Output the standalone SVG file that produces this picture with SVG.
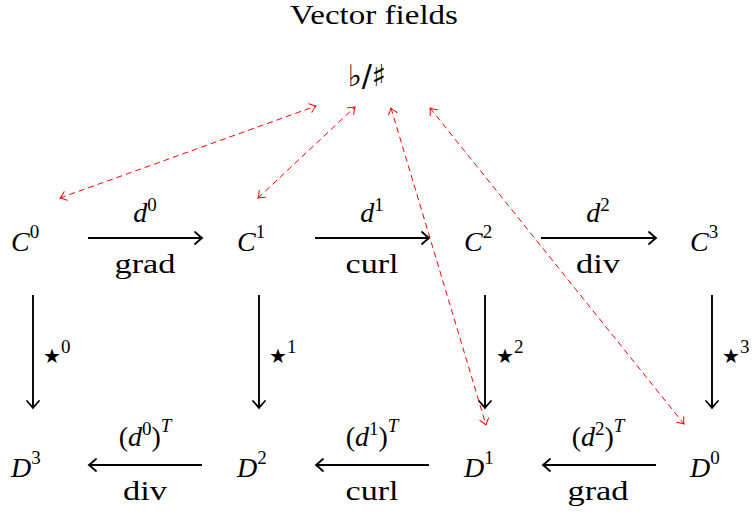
<svg xmlns="http://www.w3.org/2000/svg" width="755" height="516" viewBox="0 0 755 516">
<defs>
<style>
.a{stroke:#000;stroke-width:1.9;fill:none}
.d{stroke:#f00;stroke-width:1;fill:none;stroke-dasharray:6 4}
</style>
<marker id="ah" viewBox="-10 -7 12 14" markerWidth="12" markerHeight="14" refX="0" refY="0" orient="auto-start-reverse" markerUnits="userSpaceOnUse">
<path d="M-7,-6 Q-2,-1.5 0,0 Q-2,1.5 -7,6" stroke="#000" stroke-width="1.8" fill="none" stroke-linecap="round"/>
</marker>
<marker id="rh" viewBox="-10 -6 12 12" markerWidth="12" markerHeight="12" refX="0" refY="0" orient="auto-start-reverse" markerUnits="userSpaceOnUse">
<path d="M-6,-4.5 Q-2,-1 0,0 Q-2,1 -6,4.5" stroke="#f00" stroke-width="1" fill="none" stroke-linecap="round"/>
</marker>
</defs>
<rect width="755" height="516" fill="#fff"/>
<g id="title"><text x="374" y="24" font-family="'Liberation Serif', serif" font-size="28" text-anchor="middle" textLength="168" lengthAdjust="spacingAndGlyphs">Vector fields</text></g>
<g id="flatsharp"><text x="367" y="86" text-anchor="middle" font-family="'DejaVu Sans', sans-serif" font-size="30">♭/♯</text></g>
<g id="C0"><text x="11" y="251" font-family="'Liberation Serif', serif" font-size="28" font-style="italic">C<tspan font-family="'Liberation Serif', serif" font-size="19" font-style="normal" dy="-13">0</tspan></text></g>
<g id="C1"><text x="237" y="251" font-family="'Liberation Serif', serif" font-size="28" font-style="italic">C<tspan font-family="'Liberation Serif', serif" font-size="19" font-style="normal" dy="-13">1</tspan></text></g>
<g id="C2"><text x="464" y="251" font-family="'Liberation Serif', serif" font-size="28" font-style="italic">C<tspan font-family="'Liberation Serif', serif" font-size="19" font-style="normal" dy="-13">2</tspan></text></g>
<g id="C3"><text x="690" y="251" font-family="'Liberation Serif', serif" font-size="28" font-style="italic">C<tspan font-family="'Liberation Serif', serif" font-size="19" font-style="normal" dy="-13">3</tspan></text></g>
<g id="D3"><text x="11" y="477" font-family="'Liberation Serif', serif" font-size="28" font-style="italic">D<tspan font-family="'Liberation Serif', serif" font-size="19" font-style="normal" dy="-13">3</tspan></text></g>
<g id="D2"><text x="237" y="477" font-family="'Liberation Serif', serif" font-size="28" font-style="italic">D<tspan font-family="'Liberation Serif', serif" font-size="19" font-style="normal" dy="-13">2</tspan></text></g>
<g id="D1"><text x="464" y="477" font-family="'Liberation Serif', serif" font-size="28" font-style="italic">D<tspan font-family="'Liberation Serif', serif" font-size="19" font-style="normal" dy="-13">1</tspan></text></g>
<g id="D0"><text x="690" y="477" font-family="'Liberation Serif', serif" font-size="28" font-style="italic">D<tspan font-family="'Liberation Serif', serif" font-size="19" font-style="normal" dy="-13">0</tspan></text></g>
<g id="connectors">
<line class="a" x1="88" y1="238" x2="202" y2="238" marker-end="url(#ah)"/>
<line class="a" x1="315" y1="238" x2="429" y2="238" marker-end="url(#ah)"/>
<line class="a" x1="541" y1="238" x2="656" y2="238" marker-end="url(#ah)"/>
<line class="a" x1="202" y1="465" x2="89" y2="465" marker-end="url(#ah)"/>
<line class="a" x1="429" y1="465" x2="316" y2="465" marker-end="url(#ah)"/>
<line class="a" x1="656" y1="465" x2="543" y2="465" marker-end="url(#ah)"/>
<line class="a" x1="33" y1="295" x2="33" y2="408" marker-end="url(#ah)"/>
<line class="a" x1="259" y1="295" x2="259" y2="408" marker-end="url(#ah)"/>
<line class="a" x1="485" y1="295" x2="485" y2="408" marker-end="url(#ah)"/>
<line class="a" x1="712" y1="295" x2="712" y2="408" marker-end="url(#ah)"/>
<line class="d" x1="60" y1="198" x2="316" y2="106" marker-start="url(#rh)" marker-end="url(#rh)"/>
<line class="d" x1="258" y1="198" x2="355" y2="107" marker-start="url(#rh)" marker-end="url(#rh)"/>
<line class="d" x1="391" y1="108" x2="486" y2="425" marker-start="url(#rh)" marker-end="url(#rh)"/>
<line class="d" x1="430" y1="108" x2="684" y2="424" marker-start="url(#rh)" marker-end="url(#rh)"/>
<text x="145" y="222" text-anchor="middle" font-family="'Liberation Serif', serif" font-size="28" font-style="italic">d<tspan font-family="'Liberation Serif', serif" font-size="19" font-style="normal" dy="-11">0</tspan></text>
<text x="145" y="273" text-anchor="middle" font-family="'Liberation Serif', serif" font-size="28" textLength="61" lengthAdjust="spacingAndGlyphs">grad</text>
<text x="372" y="222" text-anchor="middle" font-family="'Liberation Serif', serif" font-size="28" font-style="italic">d<tspan font-family="'Liberation Serif', serif" font-size="19" font-style="normal" dy="-11">1</tspan></text>
<text x="372" y="273" text-anchor="middle" font-family="'Liberation Serif', serif" font-size="28" textLength="53" lengthAdjust="spacingAndGlyphs">curl</text>
<text x="598" y="222" text-anchor="middle" font-family="'Liberation Serif', serif" font-size="28" font-style="italic">d<tspan font-family="'Liberation Serif', serif" font-size="19" font-style="normal" dy="-11">2</tspan></text>
<text x="598" y="273" text-anchor="middle" font-family="'Liberation Serif', serif" font-size="28" textLength="44" lengthAdjust="spacingAndGlyphs">div</text>
<text x="145" y="446" text-anchor="middle" font-family="'Liberation Serif', serif" font-size="28" font-style="italic"><tspan font-family="'Liberation Serif', serif" font-style="normal">(</tspan>d<tspan font-family="'Liberation Serif', serif" font-size="19" font-style="normal" dy="-11">0</tspan><tspan font-family="'Liberation Serif', serif" dy="11" font-style="normal">)</tspan><tspan font-family="'Liberation Serif', serif" font-size="19" dy="-14">T</tspan></text>
<text x="145" y="500" text-anchor="middle" font-family="'Liberation Serif', serif" font-size="28" textLength="44" lengthAdjust="spacingAndGlyphs">div</text>
<text x="372" y="446" text-anchor="middle" font-family="'Liberation Serif', serif" font-size="28" font-style="italic"><tspan font-family="'Liberation Serif', serif" font-style="normal">(</tspan>d<tspan font-family="'Liberation Serif', serif" font-size="19" font-style="normal" dy="-11">1</tspan><tspan font-family="'Liberation Serif', serif" dy="11" font-style="normal">)</tspan><tspan font-family="'Liberation Serif', serif" font-size="19" dy="-14">T</tspan></text>
<text x="372" y="500" text-anchor="middle" font-family="'Liberation Serif', serif" font-size="28" textLength="53" lengthAdjust="spacingAndGlyphs">curl</text>
<text x="598" y="446" text-anchor="middle" font-family="'Liberation Serif', serif" font-size="28" font-style="italic"><tspan font-family="'Liberation Serif', serif" font-style="normal">(</tspan>d<tspan font-family="'Liberation Serif', serif" font-size="19" font-style="normal" dy="-11">2</tspan><tspan font-family="'Liberation Serif', serif" dy="11" font-style="normal">)</tspan><tspan font-family="'Liberation Serif', serif" font-size="19" dy="-14">T</tspan></text>
<text x="598" y="500" text-anchor="middle" font-family="'Liberation Serif', serif" font-size="28" textLength="61" lengthAdjust="spacingAndGlyphs">grad</text>
<text x="43" y="363" font-family="'DejaVu Sans', sans-serif" font-size="20">★<tspan font-family="'Liberation Serif', serif" font-size="19" dy="-10">0</tspan></text>
<text x="269" y="363" font-family="'DejaVu Sans', sans-serif" font-size="20">★<tspan font-family="'Liberation Serif', serif" font-size="19" dy="-10">1</tspan></text>
<text x="496" y="363" font-family="'DejaVu Sans', sans-serif" font-size="20">★<tspan font-family="'Liberation Serif', serif" font-size="19" dy="-10">2</tspan></text>
<text x="722" y="363" font-family="'DejaVu Sans', sans-serif" font-size="20">★<tspan font-family="'Liberation Serif', serif" font-size="19" dy="-10">3</tspan></text>
</g>
</svg>
